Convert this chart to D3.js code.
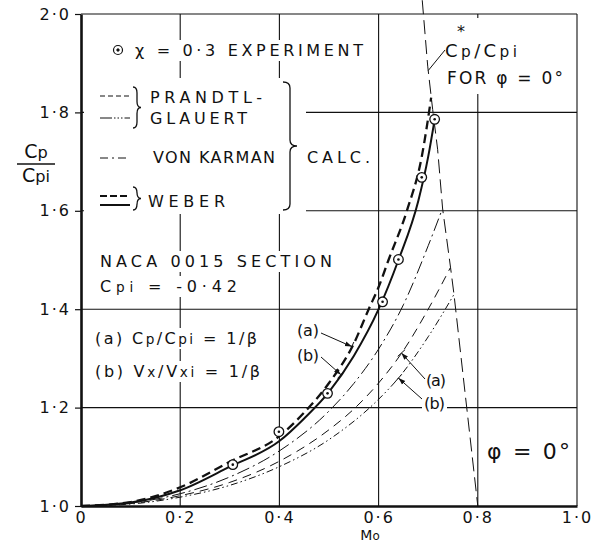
<!DOCTYPE html>
<html>
<head>
<meta charset="utf-8">
<script src="https://cdn.jsdelivr.net/npm/d3@7"></script>
<style>
  body { margin: 0; background: #fff; }
  svg { display: block; }
  text { font-family: 'DejaVu Sans', sans-serif; fill: #111; }
</style>
</head>
<body>
<div class="chart"></div>
<script>
const xTicks = [0, 0.2, 0.4, 0.6, 0.8, 1.0]
const yTicks = [1.0, 1.2, 1.4, 1.6, 1.8, 2.0]

// experiment, x = 0.3
const expMach = [0.306, 0.399, 0.497, 0.608, 0.640, 0.687, 0.713]
const expRatio = [1.084, 1.151, 1.229, 1.415, 1.501, 1.668, 1.786]

// Weber (a) heavy dashed, (b) heavy solid
const weberAMach = [0, 0.1, 0.2, 0.3, 0.4, 0.45, 0.5, 0.55, 0.58, 0.6, 0.62, 0.657, 0.687, 0.706]
const weberARatio = [1.0, 1.008, 1.038, 1.09, 1.142, 1.19, 1.25, 1.33, 1.40, 1.445, 1.50, 1.60, 1.71, 1.83]
const weberBMach = [0, 0.1, 0.2, 0.3, 0.4, 0.45, 0.5, 0.55, 0.6, 0.64, 0.68, 0.70, 0.713]
const weberBRatio = [1.0, 1.007, 1.032, 1.08, 1.132, 1.178, 1.232, 1.305, 1.40, 1.50, 1.62, 1.71, 1.786]

// von Karman
const karmanMach = [0, 0.1, 0.2, 0.3, 0.4, 0.5, 0.55, 0.6, 0.65, 0.7, 0.729]
const karmanRatio = [1.0, 1.006, 1.025, 1.059, 1.112, 1.193, 1.249, 1.319, 1.409, 1.529, 1.605]

// Prandtl-Glauert (a) Cp/Cpi = 1/beta, (b) Vx/Vxi = 1/beta
const pgAMach = [0, 0.1, 0.2, 0.3, 0.4, 0.5, 0.55, 0.6, 0.65, 0.7, 0.745]
const pgARatio = [1.0, 1.005, 1.021, 1.048, 1.091, 1.155, 1.197, 1.25, 1.316, 1.40, 1.485]
const pgBMach = [0, 0.1, 0.2, 0.3, 0.4, 0.5, 0.6, 0.64, 0.7, 0.752]
const pgBRatio = [1.0, 1.004, 1.018, 1.042, 1.080, 1.135, 1.217, 1.26, 1.344, 1.43]

// critical Cp*/Cpi
const critMach = [0.688, 0.699, 0.709, 0.719, 0.729, 0.745, 0.752, 0.80]
const critRatio = [2.028, 1.894, 1.806, 1.725, 1.605, 1.485, 1.43, 1.0]

const w = 603
const h = 545

const x = d3.scaleLinear().domain([0, 1]).range([81, 577])
const y = d3.scaleLinear().domain([1, 2]).range([506, 14])

const svg = d3.select('.chart')
  .append('svg')
    .attr('width', w)
    .attr('height', h)

svg.append('defs').append('marker')
  .attr('id', 'arrow')
  .attr('viewBox', '0 0 10 10')
  .attr('refX', 10).attr('refY', 5)
  .attr('markerWidth', 7).attr('markerHeight', 7)
  .attr('orient', 'auto')
  .append('path')
    .attr('d', 'M0,1.5 L10,5 L0,8.5 Z')
    .attr('fill', '#111')

//grid
const grid = svg.append('g').attr('stroke', '#111').attr('stroke-width', 1.1)
grid.selectAll('.vgrid')
  .data(xTicks.slice(1))
  .enter().append('line')
    .attr('x1', d => x(d)).attr('x2', d => x(d))
    .attr('y1', y(1)).attr('y2', y(2))
grid.selectAll('.hgrid')
  .data(yTicks.slice(1))
  .enter().append('line')
    .attr('x1', x(0)).attr('x2', x(1))
    .attr('y1', d => y(d)).attr('y2', d => y(d))

//white patches where the lettering breaks the grid
const masks = svg.append('g').attr('fill', '#fff')
masks.append('rect').attr('x', 84).attr('y', 78).attr('width', 222).attr('height', 136)
masks.append('rect').attr('x', 440).attr('y', 18).attr('width', 132).attr('height', 76)

//curves
const line = d3.line()
  .x(d => x(d[0]))
  .y(d => y(d[1]))
  .curve(d3.curveMonotoneX)

const curves = [
  { mach: pgBMach, ratio: pgBRatio, width: 1, dash: '7,3,1.5,3,1.5,3' },
  { mach: pgAMach, ratio: pgARatio, width: 1, dash: '9,6' },
  { mach: karmanMach, ratio: karmanRatio, width: 1, dash: '13,4,2,4' },
  { mach: weberBMach, ratio: weberBRatio, width: 2, dash: null },
  { mach: weberAMach, ratio: weberARatio, width: 2.3, dash: '9,5' }
]

svg.append('g')
  .selectAll('path')
  .data(curves)
  .enter().append('path')
    .attr('d', d => line(d3.zip(d.mach, d.ratio)))
    .attr('fill', 'none')
    .attr('stroke', '#111')
    .attr('stroke-width', d => d.width)
    .attr('stroke-dasharray', d => d.dash)

svg.append('path')
  .attr('d', d3.line().x(d => x(d[0])).y(d => y(d[1]))(d3.zip(critMach, critRatio)))
  .attr('fill', 'none')
  .attr('stroke', '#111')
  .attr('stroke-width', 1)
  .attr('stroke-dasharray', '14,6')

//experiment points
const pts = svg.append('g')
  .selectAll('g')
  .data(d3.zip(expMach, expRatio))
  .enter().append('g')
    .attr('transform', d => `translate(${x(d[0])},${y(d[1])})`)
pts.append('circle').attr('r', 4.8).attr('fill', '#fff').attr('stroke', '#111').attr('stroke-width', 1.3)
pts.append('circle').attr('r', 1.3).attr('fill', '#111')

//leaders
const leaders = svg.append('g').attr('stroke', '#111').attr('stroke-width', 1).attr('fill', 'none')
const arrows = [
  { from: [321, 333], to: [x(0.546), y(1.324)] },
  { from: [321, 357], to: [x(0.524), y(1.267)] },
  { from: [425, 379], to: [x(0.646), y(1.311)] },
  { from: [422, 399], to: [x(0.64), y(1.26)] }
]
arrows.forEach(a => {
  leaders.append('line')
    .attr('x1', a.from[0]).attr('y1', a.from[1])
    .attr('x2', a.to[0]).attr('y2', a.to[1])
    .attr('marker-end', 'url(#arrow)')
  const dx = a.to[0] - a.from[0], dy = a.to[1] - a.from[1]
  const len = Math.hypot(dx, dy)
  const nx = -dy / len * 5, ny = dx / len * 5
  leaders.append('line')
    .attr('x1', a.to[0] - nx).attr('y1', a.to[1] - ny)
    .attr('x2', a.to[0] + nx).attr('y2', a.to[1] + ny)
})
leaders.append('line')
  .attr('x1', x(0.7)).attr('y1', y(1.885))
  .attr('x2', 445).attr('y2', 50)

//legend samples
const legend = svg.append('g').attr('stroke', '#111').attr('fill', 'none')
const samples = [
  { y: 96, width: 1, dash: '5,3' },
  { y: 118, width: 1, dash: '12,2,1.5,2,1.5,2,1.5,2' },
  { y: 158, width: 1, dash: '8,4,2,4' },
  { y: 196, width: 1.8, dash: '7,3' },
  { y: 205, width: 2, dash: null }
]
legend.selectAll('line')
  .data(samples)
  .enter().append('line')
    .attr('x1', 100).attr('x2', 130)
    .attr('y1', d => d.y).attr('y2', d => d.y)
    .attr('stroke-width', d => d.width)
    .attr('stroke-dasharray', d => d.dash)

legend.append('circle').attr('cx', 118).attr('cy', 50).attr('r', 4.5).attr('stroke-width', 1.2)
legend.append('circle').attr('cx', 118).attr('cy', 50).attr('r', 1.2).attr('fill', '#111')

function brace (x0, y0, y1, bw) {
  const ym = (y0 + y1) / 2
  const r = Math.min(bw, 6)
  const xm = x0 + bw / 2
  return `M${x0},${y0} Q${xm},${y0} ${xm},${y0 + r} L${xm},${ym - r} Q${xm},${ym} ${x0 + bw},${ym} ` +
    `Q${xm},${ym} ${xm},${ym + r} L${xm},${y1 - r} Q${xm},${y1} ${x0},${y1}`
}
legend.append('path').attr('d', brace(133, 87, 128, 8)).attr('stroke-width', 1.3)
legend.append('path').attr('d', brace(133, 187, 210, 8)).attr('stroke-width', 1.3)
legend.append('path').attr('d', brace(283, 82, 210, 14)).attr('stroke-width', 1.3)

//lettering
const labels = svg.append('g')
function label (parts, x0, y0, len, size, anchor) {
  const t = labels.append('text')
    .attr('x', x0).attr('y', y0)
    .attr('text-anchor', anchor || 'start')
    .style('font-size', (size || 16) + 'px')
  if (len) t.attr('textLength', len).attr('lengthAdjust', 'spacing')
  parts.forEach(p => {
    if (p[0] === '_') t.append('tspan').style('font-size', '0.85em').text(p.slice(1))
    else t.append('tspan').text(p)
  })
  return t
}

label(['χ = 0·3 EXPERIMENT'], 135, 56, 228)
label(['PRANDTL-'], 150, 103, 112)
label(['GLAUERT'], 150, 124, 97)
label(['VON KARMAN'], 153, 163, 122)
label(['WEBER'], 148, 207, 77)
label(['CALC.'], 307, 163, 63)
label(['NACA 0015 SECTION'], 100, 267, 232)
label(['C', '_pi', ' = -0·42'], 100, 292, 137)
label(['(a) C', '_p', '/C', '_pi', ' = 1/β'], 95, 344, 162)
label(['(b) V', '_x', '/V', '_xi', ' = 1/β'], 95, 377, 165)
label(['C', '_p', '/C', '_pi'], 445, 57, 72, 18)
label(['*'], 457, 37, null, 16)
label(['FOR φ = 0°'], 447, 84, 116, 17)
label(['φ = 0°'], 487, 459, 83, 22)
label(['(a)'], 297, 336, 22)
label(['(b)'], 297, 361, 22)
label(['(a)'], 426, 386, 20)
label(['(b)'], 424, 409, 21)
label(['M', '_o'], 370, 540, null, 14, 'middle')
label(['C', '_p'], 36, 158, null, 19, 'middle')
label(['C', '_pi'], 36, 182, null, 19, 'middle')

labels.selectAll('text').each(function () {
  const b = this.getBBox()
  masks.append('rect')
    .attr('x', b.x - 2).attr('y', b.y - 1)
    .attr('width', b.width + 4).attr('height', b.height + 2)
})

svg.append('line')
  .attr('x1', 17).attr('x2', 55)
  .attr('y1', 164).attr('y2', 164)
  .attr('stroke', '#111').attr('stroke-width', 1.3)

//axes
const fmt = d => d === 0 ? '0' : d3.format('.1f')(d).replace('.', '·')

const yAxis = svg.append('g')
  .attr('transform', `translate(${x(0)},0)`)
  .call(d3.axisLeft(y).tickValues(yTicks).tickSize(6).tickSizeOuter(0).tickPadding(4).tickFormat(fmt))
const xAxis = svg.append('g')
  .attr('transform', `translate(0,${y(1)})`)
  .call(d3.axisBottom(x).tickValues(xTicks).tickSize(0).tickSizeOuter(0).tickPadding(6).tickFormat(fmt))

;[xAxis, yAxis].forEach(a => {
  a.attr('font-family', null).attr('font-size', null)
  a.select('.domain').attr('stroke', '#111').attr('stroke-width', 2.6)
  a.selectAll('.tick line').attr('stroke', '#111').attr('stroke-width', 1.2)
  a.selectAll('.tick text')
    .style('font-size', '16px')
    .style('letter-spacing', '2px')
    .attr('fill', '#111')
})
</script>
</body>
</html>
